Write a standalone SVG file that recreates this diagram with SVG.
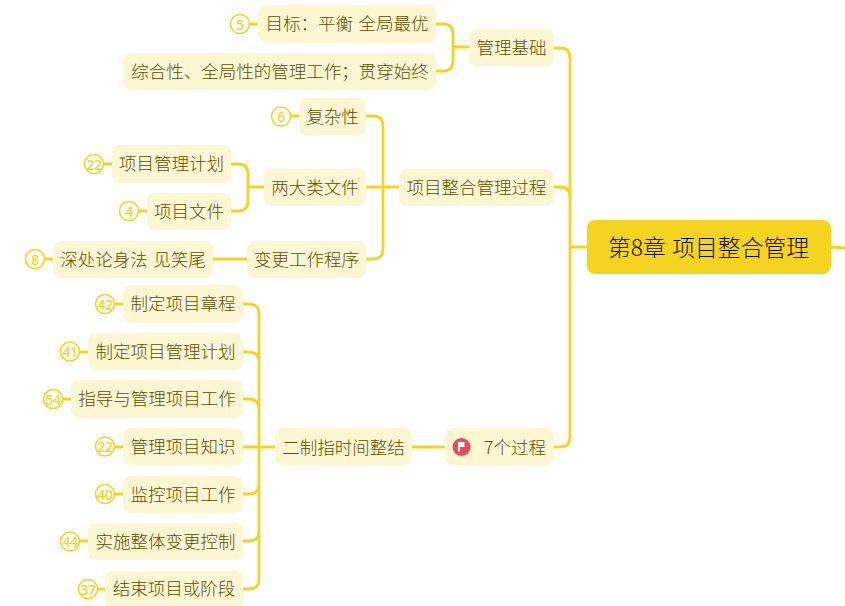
<svg xmlns="http://www.w3.org/2000/svg" width="845" height="606" viewBox="0 0 845 606">
<style>
text{font-family:"Noto Sans CJK SC","Noto Sans",sans-serif;text-anchor:middle;dominant-baseline:central}
.n{fill:#fdf6d3}
.t{font-size:17.5px;font-weight:300;fill:#5f4e00;word-spacing:1.500px}
.c{fill:none;stroke:#f4d321;stroke-width:2.8;stroke-linecap:butt}
.b{fill:#fff;stroke:#f4d321;stroke-width:1.6}
.bt{font-size:14px;font-weight:500;fill:#f4d321;letter-spacing:-0.500px;font-family:"Noto Sans",sans-serif}
</style>
<rect width="845" height="606" fill="#fff"/>
<g id="connectors" class="c">
<path d="M831 247L845 248"/>
<path d="M587 247H570M554 48H560Q570 48 570 58V437Q570 447 560 447H554M554 187H560Q570 187 570 197"/>
<path d="M436 24H443Q453 24 453 34V61Q453 71 443 71H436M469 47H453"/>
<path d="M366 116H373Q383 116 383 126V249Q383 259 373 259H366M366 187H399"/>
<path d="M231 164H238Q248 164 248 174V201Q248 211 238 211H231M248 187H264"/>
<path d="M213 259H247"/>
<path d="M243 304H249Q259 304 259 314V579Q259 589 249 589H243M243 352H249Q259 352 259 362M243 399H249Q259 399 259 409M243 447H275M243 494H249Q259 494 259 484M243 541H249Q259 541 259 531"/>
<path d="M412 447H445"/>
<path d="M250 24H258M291 116H299M104 164H112M139 211H147M45 259H53M115 304H123M80 352H88M63 399H71M115 447H123M115 494H123M80 541H88M98 589H105"/>
</g>
<g id="root"><rect x="587" y="220" width="244" height="54" rx="8" fill="#f4d321"/><text x="708.500" y="246.500" font-size="22.800px" font-weight="300" word-spacing="1.500" fill="#111">第8章 项目整合管理</text></g>
<g id="n-jichu"><rect class="n" x="469" y="29" width="85" height="37" rx="8"/><text class="t" x="511.500" y="46.500">管理基础</text></g>
<g id="n-guocheng"><rect class="n" x="399" y="169" width="155" height="37" rx="8"/><text class="t" x="476.500" y="186.500">项目整合管理过程</text></g>
<g id="n-7"><rect class="n" x="445" y="428" width="109" height="37" rx="8"/><circle cx="461.500" cy="447" r="9" fill="#f2475a"/><path d="M458 452V442H465L464 445L465.500 447H460V452Z" fill="#fff"/><text class="t" x="515" y="446">7个过程</text></g>
<g id="n-mubiao"><circle class="b" cx="240" cy="24" r="9.500"/><text class="bt" x="240" y="24">5</text><rect class="n" x="258" y="5" width="178" height="38" rx="8"/><text class="t" x="347" y="22.500">目标：平衡 全局最优</text></g>
<g id="n-zonghe"><rect class="n" x="124" y="53" width="312" height="37" rx="8"/><text class="t" x="280" y="70">综合性、全局性的管理工作；贯穿始终</text></g>
<g id="n-fuza"><circle class="b" cx="281" cy="116.500" r="9.500"/><text class="bt" x="281" y="116.500">6</text><rect class="n" x="299" y="98" width="67" height="37" rx="8"/><text class="t" x="332.500" y="115">复杂性</text></g>
<g id="n-liang"><rect class="n" x="264" y="169" width="102" height="37" rx="8"/><text class="t" x="315" y="186">两大类文件</text></g>
<g id="n-jihua"><circle class="b" cx="94" cy="164" r="9.500"/><text class="bt" x="94" y="164">22</text><rect class="n" x="112" y="145" width="119" height="38" rx="8"/><text class="t" x="171.500" y="162.500">项目管理计划</text></g>
<g id="n-wenjian"><circle class="b" cx="129" cy="211" r="9.500"/><text class="bt" x="129" y="211">4</text><rect class="n" x="147" y="193" width="84" height="37" rx="8"/><text class="t" x="189" y="210">项目文件</text></g>
<g id="n-biangeng"><rect class="n" x="247" y="241" width="119" height="37" rx="8"/><text class="t" x="306.500" y="258">变更工作程序</text></g>
<g id="n-shenchu"><circle class="b" cx="35" cy="259" r="9.500"/><text class="bt" x="35" y="259">8</text><rect class="n" x="53" y="241" width="160" height="37" rx="8"/><text class="t" x="133" y="258">深处论身法 见笑尾</text></g>
<g id="n-erzhi"><rect class="n" x="275" y="428" width="137" height="37" rx="8"/><text class="t" x="343.500" y="446">二制指时间整结</text></g>
<g id="n-zhangcheng"><circle class="b" cx="105" cy="304" r="9.500"/><text class="bt" x="105" y="304">42</text><rect class="n" x="123" y="285" width="120" height="38" rx="8"/><text class="t" x="183" y="302.500">制定项目章程</text></g>
<g id="n-zhiding"><circle class="b" cx="70" cy="351.500" r="9.500"/><text class="bt" x="70" y="351.500">41</text><rect class="n" x="88" y="333" width="155" height="37" rx="8"/><text class="t" x="165.500" y="350">制定项目管理计划</text></g>
<g id="n-zhidao"><circle class="b" cx="53" cy="399" r="9.500"/><text class="bt" x="53" y="399">54</text><rect class="n" x="71" y="380" width="172" height="38" rx="8"/><text class="t" x="157" y="397.500">指导与管理项目工作</text></g>
<g id="n-zhishi"><circle class="b" cx="105" cy="446.500" r="9.500"/><text class="bt" x="105" y="446.500">22</text><rect class="n" x="123" y="428" width="120" height="37" rx="8"/><text class="t" x="183" y="445">管理项目知识</text></g>
<g id="n-jiankong"><circle class="b" cx="105" cy="494" r="9.500"/><text class="bt" x="105" y="494">40</text><rect class="n" x="123" y="476" width="120" height="37" rx="8"/><text class="t" x="183" y="493">监控项目工作</text></g>
<g id="n-shishi"><circle class="b" cx="70" cy="541.500" r="9.500"/><text class="bt" x="70" y="541.500">44</text><rect class="n" x="88" y="523" width="155" height="37" rx="8"/><text class="t" x="165.500" y="540">实施整体变更控制</text></g>
<g id="n-jieshu"><circle class="b" cx="88" cy="589" r="9.500"/><text class="bt" x="88" y="589">37</text><rect class="n" x="105" y="571" width="138" height="37" rx="8"/><text class="t" x="174" y="587.500">结束项目或阶段</text></g>
</svg>
